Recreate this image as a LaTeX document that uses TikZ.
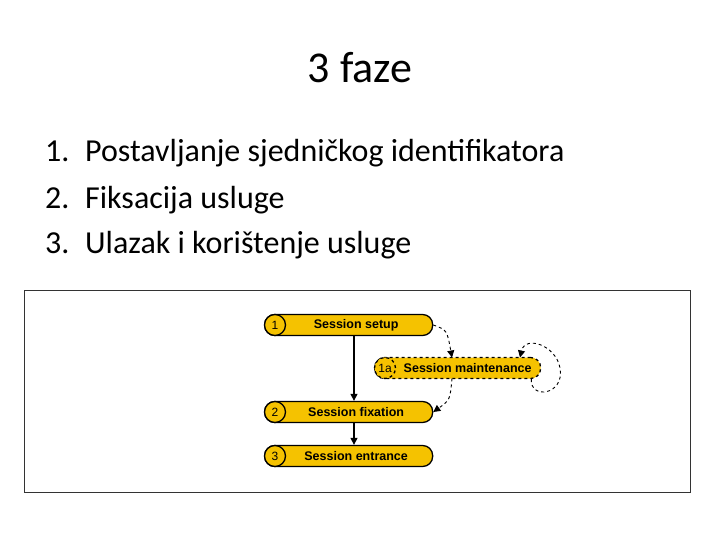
\documentclass[tikz,border=0pt]{standalone}
\usepackage{fontspec}
\setmainfont{Carlito}
\newfontfamily\barfont{Liberation Sans}
\usetikzlibrary{arrows.meta}
\definecolor{gold}{HTML}{F5C200}
\begin{document}
\begin{tikzpicture}[x=1pt,y=-1pt,
  bar/.style={draw=black,line width=1.3pt,fill=gold,rounded corners=10pt,minimum height=21pt,inner sep=0pt,font=\barfont\bfseries\fontsize{12.5}{14}\selectfont},
  num/.style={draw=black,line width=1.3pt,fill=gold,circle,minimum size=21pt,inner sep=0pt,font=\barfont\fontsize{12}{14}\selectfont},
  arr/.style={line width=1.2pt,-{Triangle[length=7pt,width=7pt]}},
  darr/.style={line width=0.9pt,dashed,-{Triangle[length=7pt,width=7pt]}}]
\useasboundingbox (0,0) rectangle (720,540);
\node (title) at (360,68) {\fontsize{44}{50}\selectfont 3 faze};
\foreach \i/\t/\y in {1/Postavljanje sjedničkog identifikatora/151,2/Fiksacija usluge/197,3/Ulazak i korištenje usluge/243}{
  \node[anchor=base west,font=\fontsize{32}{36}\selectfont,inner sep=0pt] (n\i) at (45,\y+11) {\i.};
  \node[anchor=base west,font=\fontsize{32}{36}\selectfont,inner sep=0pt] (t\i) at (85,\y+11) {\t};
}
\node[draw=black!80,line width=1.2pt,minimum width=666pt,minimum height=202pt,anchor=north west,inner sep=0pt] (frame) at (24,290) {};
% bars
\node[bar,minimum width=168pt,anchor=west] (b1) at (264,325) {\hspace{15pt}Session setup};
\node[num] (c1) at (275,325) {1};
\node[bar,dashed,minimum width=166pt,anchor=west] (bm) at (374,368) {\hspace{20pt}Session maintenance};
\node[num,dashed,fill=gold] (cm) at (385,368) {1a};
\node[bar,minimum width=168pt,anchor=west] (b2) at (264,412) {\hspace{15pt}Session fixation};
\node[num] (c2) at (275,412) {2};
\node[bar,minimum width=168pt,anchor=west] (b3) at (264,456) {\hspace{15pt}Session entrance};
\node[num] (c3) at (275,456) {3};
% arrows
\draw[arr] (b1.south -| 354,0) -- (b2.north -| 354,0);
\draw[arr] (b2.south -| 354,0) -- (b3.north -| 354,0);
\draw[darr] (b1.east) .. controls (447,330) .. (452,357.5);
\draw[darr] (452,378.5) .. controls (450,400) .. (b2.east);
\draw[darr] (bm.south east) ++(-10,0) .. controls (530,400) and (565,395) .. (560,368) .. controls (556,345) and (525,335) .. (520,357.5);
\end{tikzpicture}
\end{document}
